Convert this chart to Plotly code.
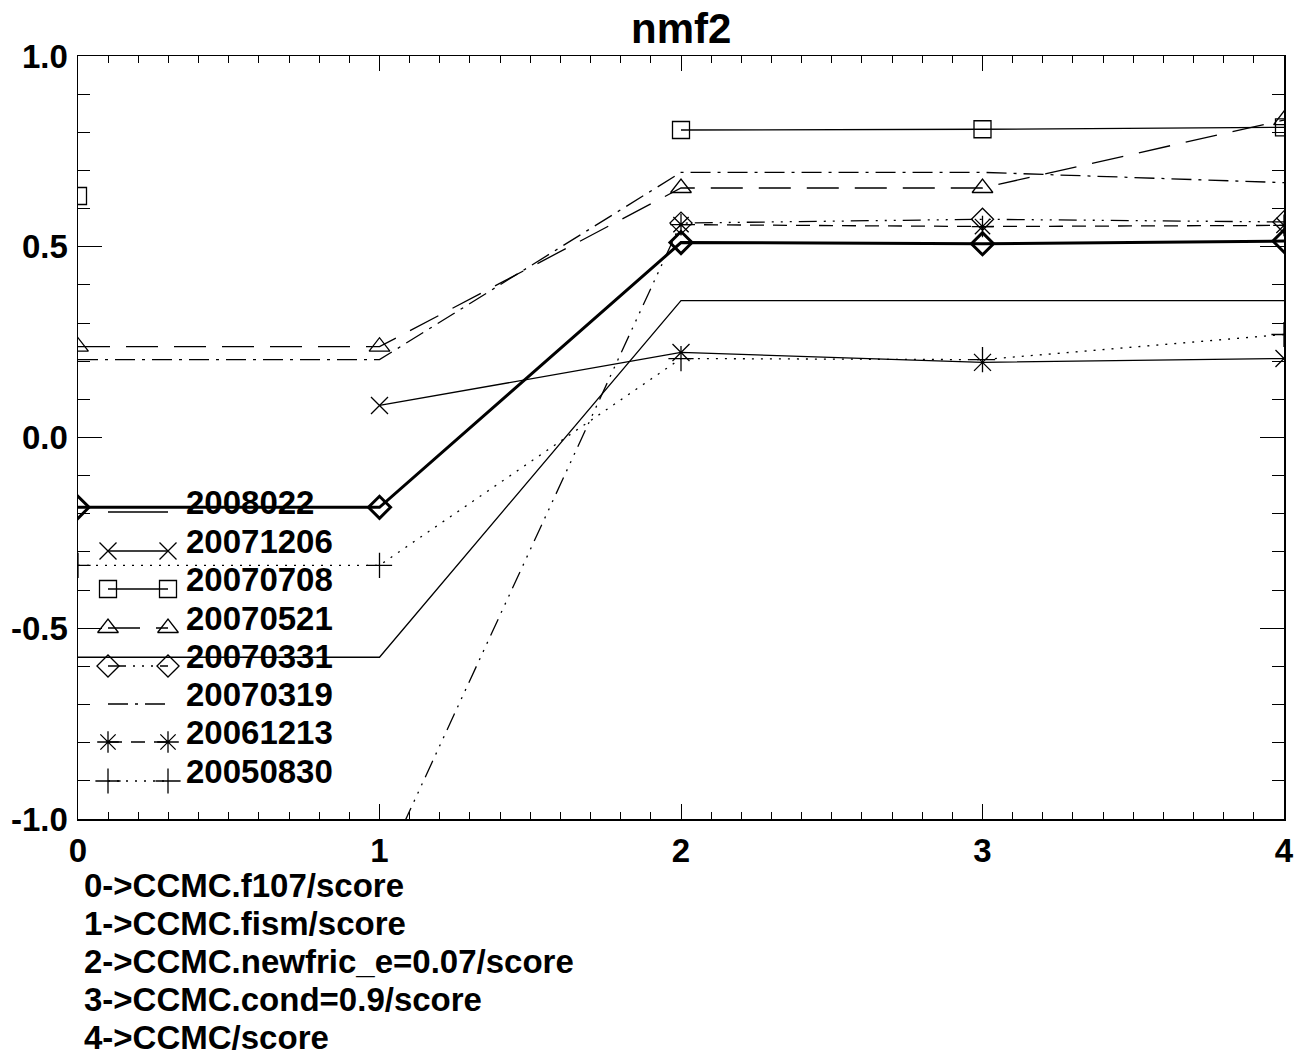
import plotly.graph_objects as go

# ---------------- data ----------------
x_vals = [0, 1, 2, 3, 4]
x_tick_labels = ["0", "1", "2", "3", "4"]
y_tick_vals = [-1.0, -0.5, 0.0, 0.5, 1.0]
y_tick_labels = ["-1.0", "-0.5", "0.0", "0.5", "1.0"]

names = ["2008022", "20071206", "20070708", "20070521",
         "20070331", "20070319", "20061213", "20050830"]
s_2008022 = [-0.576, -0.576, 0.359, 0.359, 0.359]
s_20071206 = [None, 0.084, 0.223, 0.197, 0.207]
s_20070708 = [0.633, None, 0.806, 0.808, 0.813]
s_20070521 = [0.238, 0.238, 0.654, 0.654, 0.832]
s_20070331 = [-1.30, -1.15, 0.562, 0.572, 0.565]
s_20070319 = [0.204, 0.204, 0.695, 0.695, 0.668]
s_20061213 = [None, None, 0.558, 0.553, 0.556]
s_20050830 = [-0.335, -0.335, 0.207, 0.204, 0.270]
s_mean = [-0.183, -0.183, 0.511, 0.508, 0.515]

bottom_notes = ["0->CCMC.f107/score", "1->CCMC.fism/score",
                "2->CCMC.newfric_e=0.07/score", "3->CCMC.cond=0.9/score",
                "4->CCMC/score"]
title_text = "nmf2"

series = [s_2008022, s_20071206, s_20070708, s_20070521,
          s_20070331, s_20070319, s_20061213, s_20050830]

# ---------------- styles ----------------
DOT = "2px,7px"
DASH = "14px,9px"
DASHDOT = "20px,7px,3px,7px"
DASH3DOT = "18px,7px,2px,7px,2px,7px,2px,7px"
LONGDASH = "32px,16px"
dashes = ["solid", "solid", "solid", LONGDASH, DASH3DOT, DASHDOT, DASH, DOT]
symbols = [None, "x-thin", "square-open", "triangle-up-open", "diamond-open",
           None, "asterisk", "cross-thin"]
msizes = [0, 17, 17, 18, 17, 0, 18, 18]

FONT = "Liberation Sans"
FS = 33
W, H = 1296, 1055
L, R, T, B = 78, 1284, 56, 819

fig = go.Figure()


def add_series(xs, ys, dash, sym, size, lw=1.3, mlw=1.3, xa="x", ya="y"):
    mode = "lines+markers" if sym else "lines"
    marker = dict(symbol=sym or "circle", size=size, color="black",
                  line=dict(color="black", width=mlw))
    fig.add_trace(go.Scatter(x=xs, y=ys, mode=mode, xaxis=xa, yaxis=ya,
                             line=dict(color="black", width=lw, dash=dash),
                             marker=marker, showlegend=False,
                             connectgaps=False, hoverinfo="skip"))


for ys, d, s, ms in zip(series, dashes, symbols, msizes):
    add_series(x_vals, ys, d, s, ms)

# thick overlay line with diamonds
add_series(x_vals, s_mean, "solid", "diamond-open", 17, lw=3, mlw=3)

# IDL-style legend drawn on an overlay pixel axis
leg_line_y = [512, 551, 589, 628, 666, 704, 742, 781]
leg_x0, leg_x1, leg_tx = 108, 168, 184
for name, d, s, ms, ly in zip(names, dashes, symbols, msizes, leg_line_y):
    add_series([leg_x0, leg_x1], [ly, ly], d, s, ms, xa="x2", ya="y2")
    fig.add_annotation(x=leg_tx, y=ly - 10, xref="x2", yref="y2", text=name,
                       showarrow=False, xanchor="left", yanchor="middle",
                       font=dict(family=FONT, size=FS, color="black", weight="bold"))

tickfont = dict(family=FONT, size=FS, color="black", weight="bold")
fig.update_layout(
    width=W, height=H,
    margin=dict(l=L, r=W - R, t=T, b=H - B, pad=0, autoexpand=False),
    paper_bgcolor="white", plot_bgcolor="white",
    showlegend=False,
    xaxis=dict(range=[0, 4], tickvals=x_vals, ticktext=x_tick_labels,
               ticks="inside", ticklen=15, tickwidth=1, tickcolor="black",
               minor=dict(dtick=0.1, ticks="inside", ticklen=7, tickwidth=1,
                          tickcolor="black", showgrid=False),
               showline=True, linecolor="black", linewidth=1.5, mirror="ticks",
               showgrid=False, zeroline=False, tickfont=tickfont,
               ticklabelstandoff=2, automargin=False, fixedrange=True),
    yaxis=dict(range=[-1, 1], tickvals=y_tick_vals, ticktext=y_tick_labels,
               ticks="inside", ticklen=24, tickwidth=1, tickcolor="black",
               minor=dict(dtick=0.1, ticks="inside", ticklen=12, tickwidth=1,
                          tickcolor="black", showgrid=False),
               showline=True, linecolor="black", linewidth=1.5, mirror="ticks",
               showgrid=False, zeroline=False, tickfont=tickfont,
               ticklabelstandoff=2, automargin=False, fixedrange=True),
    xaxis2=dict(range=[L, R], overlaying="x", visible=False, fixedrange=True),
    yaxis2=dict(range=[B, T], overlaying="y", visible=False, fixedrange=True),
)


def px_to_paper(px, py):
    return (px - L) / (R - L), (B - py) / (B - T)


tx, ty = px_to_paper(681, 28)
fig.add_annotation(x=tx, y=ty, xref="paper", yref="paper",
                   yanchor="middle", xanchor="center", showarrow=False,
                   text=title_text,
                   font=dict(family=FONT, size=42, color="black", weight="bold"))

note_y = [885, 923, 961, 999, 1037]
for txt, ny in zip(bottom_notes, note_y):
    nx, nyp = px_to_paper(82, ny)
    fig.add_annotation(x=nx, y=nyp, xref="paper", yref="paper",
                       xanchor="left", yanchor="middle", showarrow=False,
                       text=txt,
                       font=dict(family=FONT, size=FS, color="black", weight="bold"))

fig.write_html("out.html",
               config={"displayModeBar": False, "staticPlot": True},
               post_script="document.body.style.margin='0';"
                           "document.body.style.overflow='hidden';")
